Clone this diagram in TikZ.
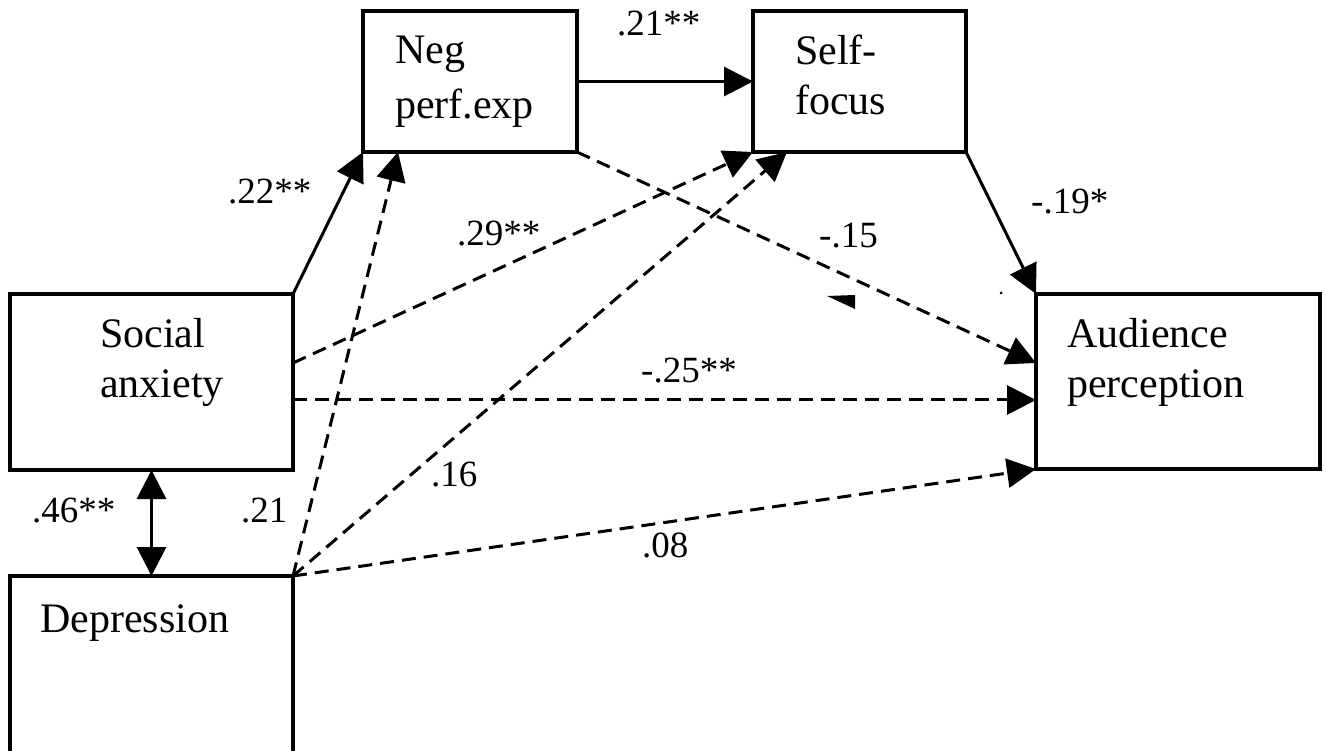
\documentclass[tikz,border=0pt]{standalone}
\usepackage{fontspec}
\setmainfont{Liberation Serif}
\usetikzlibrary{arrows.meta,calc}
\begin{document}
\begin{tikzpicture}[x=1pt,y=-1pt,
  box/.style={draw,line width=3.2pt,rectangle,outer sep=0pt,inner sep=0pt},
  boxtext/.style={anchor=base west,inner sep=0pt,font=\fontsize{42}{50}\selectfont},
  lab/.style={anchor=base west,inner sep=0pt,font=\fontsize{37}{44}\selectfont},
  tip/.style={-{Triangle[length=29pt,width=29pt]}},
  solidarrow/.style={line width=3pt,tip},
  dasharrow/.style={line width=3pt,tip,dash pattern=on 14pt off 8pt}]
\useasboundingbox (0,0) rectangle (1326,751);
\clip (0,0) rectangle (1326,751);
% boxes
\node[box,minimum width=283pt,minimum height=176pt] (sa) at (151.5,382) {};
\node[box,minimum width=283pt,minimum height=200pt] (dep) at (151.5,676) {};
\node[box,minimum width=214pt,minimum height=141pt] (neg) at (470,81.5) {};
\node[box,minimum width=213pt,minimum height=141pt] (self) at (859.5,81.5) {};
\node[box,minimum width=284pt,minimum height=175pt] (ap) at (1178,381.5) {};
% box texts
\node[boxtext] (t1) at (100,348) {Social};
\node[boxtext] (t2) at (100,398) {anxiety};
\node[boxtext] (t3) at (40,632) {Depression};
\node[boxtext] (t4) at (395,64) {Neg};
\node[boxtext] (t5) at (395,119) {perf.exp};
\node[boxtext] (t6) at (795,65) {Self-};
\node[boxtext] (t7) at (795,115) {focus};
\node[boxtext] (t8) at (1067,348) {Audience};
\node[boxtext] (t9) at (1067,398) {perception};
% connectors
\coordinate (sa29) at ([yshift=19pt]sa.east);
\coordinate (sa25) at ([yshift=-18pt]sa.east);
\draw[solidarrow] (sa.north east) -- (neg.south west);
\draw[dasharrow] (dep.north east) -- ([xshift=35pt]neg.south west);
\draw[dasharrow] (sa29) -- (self.south west);
\draw[dasharrow] (dep.north east) -- ([xshift=34pt]self.south west);
\draw[dasharrow] (sa25) -- (sa25 -| ap.west);
\draw[dasharrow] (dep.north east) -- (ap.south west);
\draw[dasharrow] (neg.south east) -- ([yshift=-69pt]ap.north west);
\draw[solidarrow] (self.south east) -- (ap.north west);
\draw[solidarrow] (neg.east) -- (self.west);
\draw[line width=3pt,{Triangle[length=29pt,width=29pt]}-{Triangle[length=29pt,width=29pt]}] (sa.south) -- (dep.north);
% labels
\node[lab] (l1) at (617,36) {.21**};
\node[lab] (l2) at (228,204) {.22**};
\node[lab] (l3) at (457,246) {.29**};
\node[lab] (l4) at (819,248) {-.15};
\node[lab] (l5) at (1031,214) {-.19*};
\node[lab] (l6) at (641,382) {-.25**};
\node[lab] (l7) at (431,486) {.16};
\node[lab] (l8) at (241,522) {.21};
\node[lab] (l9) at (32,522) {.46**};
\node[lab] (l10) at (642,557) {.08};
% stray marks
\fill (827,296) -- (855,295) -- (855,309) -- cycle;
\fill (1001,293) circle (1.5pt);
\end{tikzpicture}
\end{document}
